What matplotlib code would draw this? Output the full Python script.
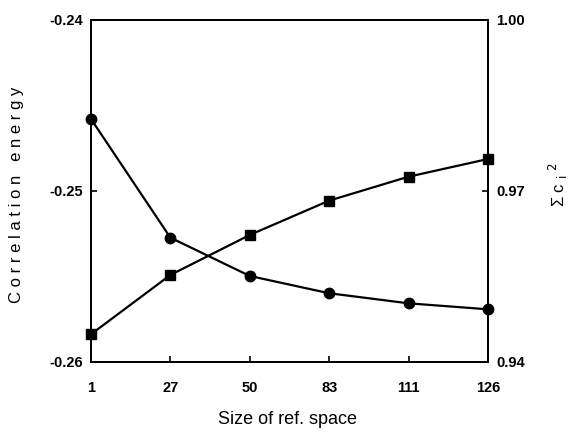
import numpy as np
import matplotlib
matplotlib.use("Agg")
import matplotlib.pyplot as plt

plt.rcParams['font.family'] = ['Liberation Sans', 'DejaVu Sans']

ref_sizes = ["1", "27", "50", "83", "111", "126"]
corr_energy = [-0.24579, -0.25273, -0.25497, -0.25598, -0.25657, -0.25692]
sum_ci2 = [0.94486, 0.95526, 0.96228, 0.9683, 0.9725, 0.9756]

left_ticks = [-0.26, -0.25, -0.24]
left_labels = ["-0.26", "-0.25", "-0.24"]
right_ticks = [0.94, 0.97, 1.00]
right_labels = ["0.94", "0.97", "1.00"]


def main():
    fig = plt.figure(figsize=(5.74, 4.33), dpi=100)
    ax = fig.add_axes([0.1585, 0.164, 0.6915, 0.790])
    x = np.arange(len(ref_sizes))

    ax.plot(x, corr_energy, color="black", lw=1.6, marker="o", ms=7.5, clip_on=False, zorder=3)
    ax.set_xlim(x[0], x[-1])
    ax.set_ylim(-0.26, -0.24)
    ax.set_xticks(x)
    ax.set_xticklabels(ref_sizes)
    ax.set_yticks(left_ticks)
    ax.set_yticklabels(left_labels)

    ax2 = ax.twinx()
    ax2.plot(x, sum_ci2, color="black", lw=1.6, marker="s", ms=7.5, clip_on=False, zorder=3)
    ax2.set_ylim(0.94, 1.00)
    ax2.set_yticks(right_ticks)
    ax2.set_yticklabels(right_labels)

    for a in (ax, ax2):
        for sp in a.spines.values():
            sp.set_linewidth(1.3)
        a.tick_params(direction="in", length=4, width=1.2, labelsize=10.5, pad=6)
        for lab in a.get_xticklabels() + a.get_yticklabels():
            lab.set_fontweight("bold")
    ax.tick_params(axis="x", pad=14)

    fig.text(288 / 574, 1 - 420 / 433, "Size of ref. space",
             ha="center", va="center", fontsize=13)
    fig.text(17 / 574, 1 - 195 / 433, "C o r r e l a t i o n   e n e r g y",
             rotation=90, ha="center", va="center", fontsize=12)
    fig.text(558 / 574, 1 - 185 / 433, "Σ c $_{\\rm i}$ $^{2}$",
             rotation=90, ha="center", va="center", fontsize=12)

    fig.savefig("out.png", dpi=100)
    plt.close(fig)


if __name__ == "__main__":
    main()
